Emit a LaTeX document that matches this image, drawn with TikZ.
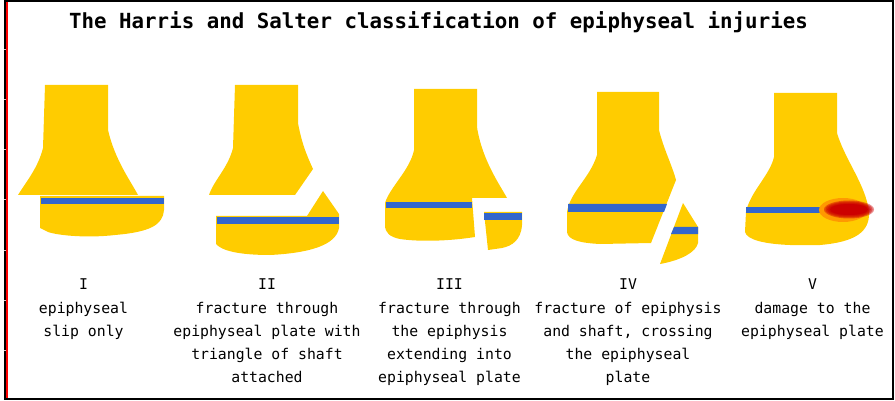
\documentclass[tikz,border=0pt]{standalone}
\usepackage{fontspec}
\usepackage{xcolor}
\usepackage{tikz}
\setmonofont{DejaVu Sans Mono}

\definecolor{boneyellow}{HTML}{FFCC00}
\definecolor{plateblue}{HTML}{3366CC}
\definecolor{injuryred}{HTML}{CC0000}
\definecolor{injuryorange}{HTML}{FF9900}

\begin{document}
\begin{tikzpicture}[
    x=1pt, y=-1pt,
    bone/.style={fill=boneyellow},
    plate/.style={fill=plateblue},
    heading/.style={font=\ttfamily\bfseries\fontsize{20.8}{24}\selectfont, anchor=base, inner sep=0pt},
    caption/.style={font=\ttfamily\fontsize{14.8}{23.2}\selectfont, align=center, anchor=north, inner sep=0pt}
]
\useasboundingbox (0,0) rectangle (895,401);

% Frame
\draw[line width=2pt] (5,1.5) rectangle (892.5,398.5);
\draw[red, line width=1.5pt] (6.75,2.5) -- (6.75,397.5);
\foreach \ty in {50,100,...,350}
    \draw[gray!40, line width=1pt] (3.5,\ty) -- (5.5,\ty);

% Title
\node[heading] (title) at (438.5,29) {The Harris and Salter classification of epiphyseal injuries};

% Type I: epiphysis slipped sideways
\fill[bone] (45,85) -- (108,85) -- (108,130)
    .. controls (115,160) and (130,180) .. (138,195) -- (18,195)
    .. controls (26,182) and (38,168) .. (43,148) -- cycle;
\fill[bone] (40,196) -- (164,196) -- (164,210)
    .. controls (163,225) and (150,232) .. (115,235)
    .. controls (90,238) and (60,236) .. (48,232) -- (40,228) -- cycle;
\fill[plate] (41,198) rectangle (164,204);

% Type II: plate with shaft triangle
\fill[bone] (235,85) -- (298,85) -- (298,123)
    .. controls (302,145) and (308,158) .. (313,169) -- (295,195) -- (209,195)
    .. controls (214,180) and (228,168) .. (233,148) -- cycle;
\fill[bone] (216,216) -- (307,216) -- (323,191) -- (339,214) -- (339,228)
    .. controls (336,245) and (310,253) .. (270,255)
    .. controls (240,255) and (222,251) .. (216,244) -- cycle;
\fill[plate] (217,217) rectangle (339,224);

% Type III: fracture through the epiphysis
\fill[bone] (414,89) -- (477,89) -- (477,127)
    .. controls (482,160) and (500,185) .. (507,198) -- (472,198) -- (475,237)
    .. controls (450,241) and (420,242) .. (400,239)
    .. controls (390,237) and (385,233) .. (385,225) -- (385,203)
    .. controls (390,187) and (410,170) .. (414,150) -- cycle;
\fill[plate] (386,202) rectangle (472,208);
\fill[bone] (484,212) -- (522,212) -- (522,225)
    .. controls (521,240) and (512,246) .. (502,248) -- (488,250) -- cycle;
\fill[plate] (484,213) rectangle (522,220);

% Type IV: fracture across epiphysis and shaft
\fill[bone] (597,92) -- (659,92) -- (659,130)
    .. controls (664,150) and (672,165) .. (676,180) -- (651,243) -- (600,244)
    .. controls (580,243) and (568,240) .. (567,232) -- (567,212)
    .. controls (570,192) and (590,178) .. (597,155) -- cycle;
\fill[plate] (568,204) -- (667,204) -- (664,212) -- (568,212) -- cycle;
\fill[bone] (683,203) -- (698,227) -- (698,243)
    .. controls (696,252) and (682,260) .. (660,264) -- cycle;
\fill[plate] (674,227) -- (698,227) -- (698,234) -- (671,234) -- cycle;

% Type V: crushed plate
\fill[bone] (774,93) -- (837,93) -- (837,133)
    .. controls (845,160) and (866,185) .. (869,212)
    .. controls (870,232) and (855,242) .. (820,245) -- (790,245)
    .. controls (765,244) and (747,240) .. (745,232) -- (746,212)
    .. controls (750,192) and (770,175) .. (774,157) -- cycle;
\fill[plate] (746,207) rectangle (832,213);
\fill[injuryorange] (843,210) ellipse [x radius=24, y radius=12];
\foreach \k in {0,...,3}
    \fill[injuryred, opacity=0.45] (849,209.5) ellipse [x radius=25-1.5*\k, y radius=9-1*\k];
\fill[injuryred] (849,209.5) ellipse [x radius=19, y radius=5.5];

% Captions
\node[caption] (capI) at (83.5,279) {I\\epiphyseal\\slip only};
\node[caption] (capII) at (267,279) {II\\fracture through\\epiphyseal plate with\\triangle of shaft\\attached};
\node[caption] (capIII) at (449.5,279) {III\\fracture through\\the epiphysis\\extending into\\epiphyseal plate};
\node[caption] (capIV) at (628,279) {IV\\fracture of epiphysis\\and shaft, crossing\\the epiphyseal\\plate};
\node[caption] (capV) at (812.5,279) {V\\damage to the\\epiphyseal plate};

\end{tikzpicture}
\end{document}
